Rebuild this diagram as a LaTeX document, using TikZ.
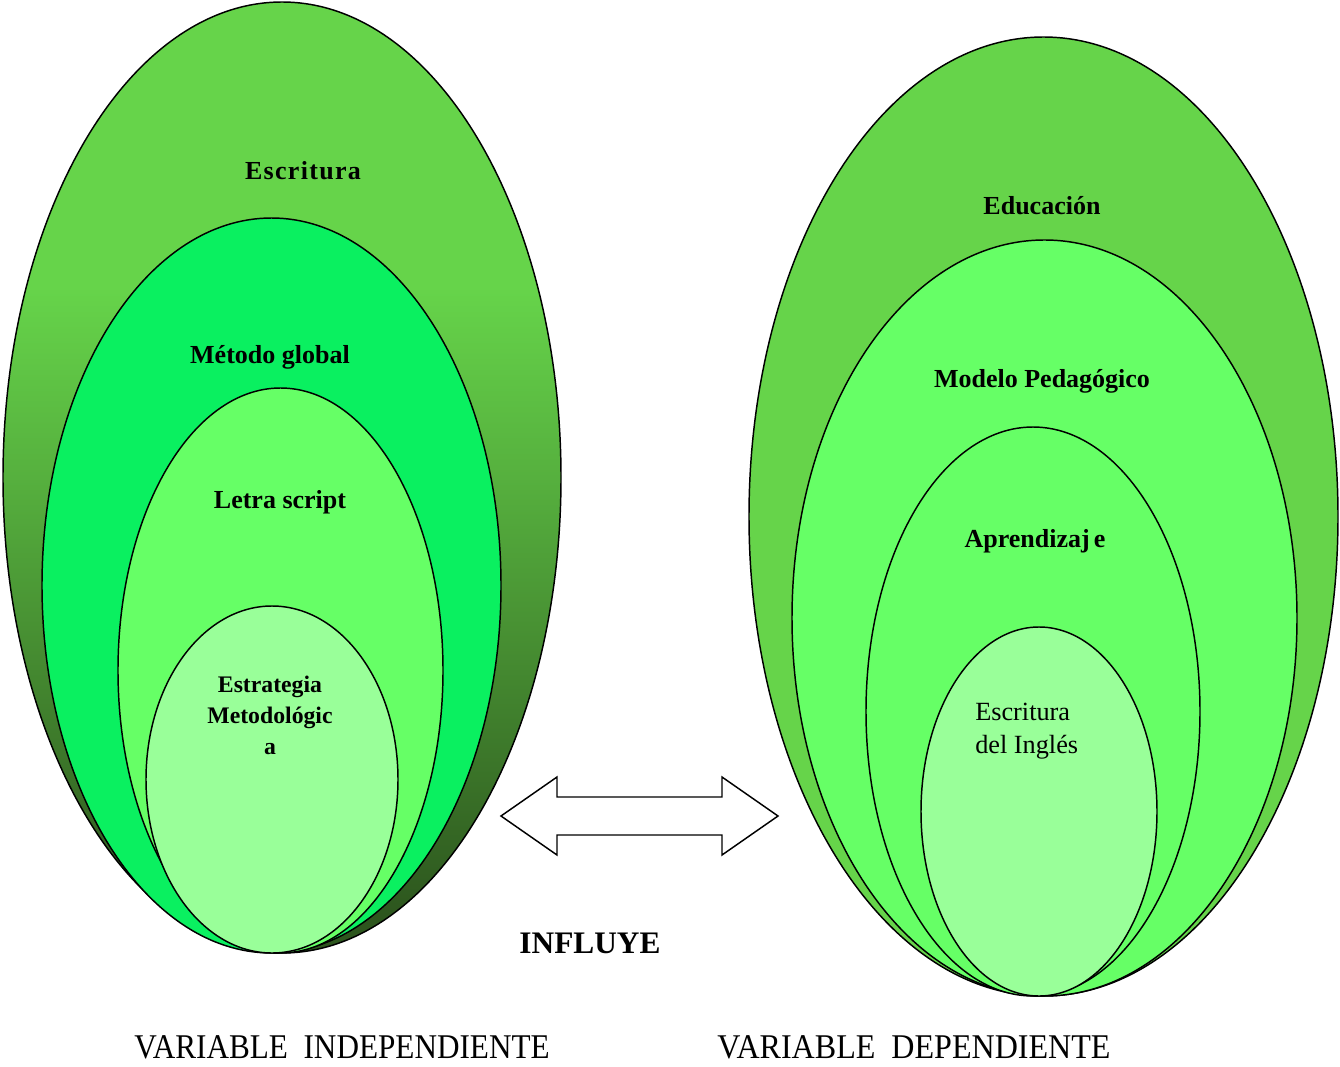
\documentclass[tikz,border=0pt]{standalone}
\usepackage{fontspec}
\setmainfont{Liberation Serif}
\definecolor{ltgreen}{RGB}{102,212,74}
\definecolor{midgreen}{RGB}{86,176,62}
\definecolor{dkgreen}{RGB}{45,86,30}
\definecolor{brightgreen}{RGB}{10,240,96}
\definecolor{lgreen}{RGB}{102,255,102}
\definecolor{pgreen}{RGB}{153,255,153}
\pgfdeclareverticalshading{outerL}{100bp}{color(0bp)=(dkgreen); color(27bp)=(dkgreen); color(50bp)=(midgreen); color(60bp)=(ltgreen); color(100bp)=(ltgreen)}
\tikzset{
  ring/.style={draw=black, line width=1.1pt},
  lbl/.style={anchor=base, inner sep=0pt, font=\fontsize{19.5}{23}\selectfont\bfseries},
  lblsmall/.style={anchor=base, inner sep=0pt, font=\fontsize{17.8}{24}\selectfont\bfseries},
  lblreg/.style={anchor=base west, inner sep=0pt, font=\fontsize{19.7}{25}\selectfont},
  bottomlbl/.style={anchor=base, inner sep=0pt, font=\fontsize{26}{29}\selectfont}
}
\begin{document}
\begin{tikzpicture}[x=0.75pt,y=-0.75pt]
\useasboundingbox (0,0) rectangle (1340,1067);
% Left set
\shade[ring, shading=outerL] (282,477.5) ellipse [x radius=279, y radius=475.5];
\draw[ring, fill=brightgreen] (271.5,585.5) ellipse [x radius=229.5, y radius=367.5];
\draw[ring, fill=lgreen] (280.5,670.5) ellipse [x radius=162.5, y radius=282.5];
\draw[ring, fill=pgreen] (272,779.5) ellipse [x radius=126, y radius=173.5];
% Right set
\draw[ring, fill=ltgreen] (1043.5,516.5) ellipse [x radius=294.5, y radius=479.5];
\draw[ring, fill=lgreen] (1044.5,618) ellipse [x radius=252.5, y radius=378];
\draw[ring, fill=lgreen] (1033,711.5) ellipse [x radius=167, y radius=284.5];
\draw[ring, fill=pgreen] (1039,811.5) ellipse [x radius=118, y radius=184.5];
% Double arrow
\draw[line width=1.1pt, fill=white] (501,816) -- (557,777) -- (557,797) -- (722,797) -- (722,777) -- (778,816) -- (722,855) -- (722,835) -- (557,835) -- (557,855) -- cycle;
% Left labels
\node[lbl, font=\fontsize{19.5}{23}\selectfont\bfseries\addfontfeatures{LetterSpace=5}] (escL) at (303,179) {Escritura};
\node[lbl] (metodo) at (270,363) {Método global};
\node[lbl] (letra) at (280,508) {Letra script};
\node[lblsmall] (estr1) at (270,692) {Estrategia};
\node[lblsmall] (estr2) at (270,723) {Metodológic};
\node[lblsmall] (estr3) at (270,754) {a};
% Right labels
\node[lbl] (educ) at (1042,214) {Educación};
\node[lbl] (modelo) at (1042,387) {Modelo Pedagógico};
\node[lbl] (aprend) at (1035,547) {Aprendizaj\kern3pt e};
\node[lblreg] (escR1) at (975,720) {Escritura};
\node[lblreg] (escR2) at (975,753) {del Inglés};
% Middle and bottom
\node[anchor=base, inner sep=0pt, font=\fontsize{23.5}{26}\selectfont\bfseries] (influye) at (590,953) {INFLUYE};
\node[bottomlbl] (varind) at (342,1058) {\scalebox{0.9}[1]{VARIABLE\ \ INDEPENDIENTE}};
\node[bottomlbl] (vardep) at (914,1058) {\scalebox{0.925}[1]{VARIABLE\ \ DEPENDIENTE}};
\end{tikzpicture}
\end{document}
